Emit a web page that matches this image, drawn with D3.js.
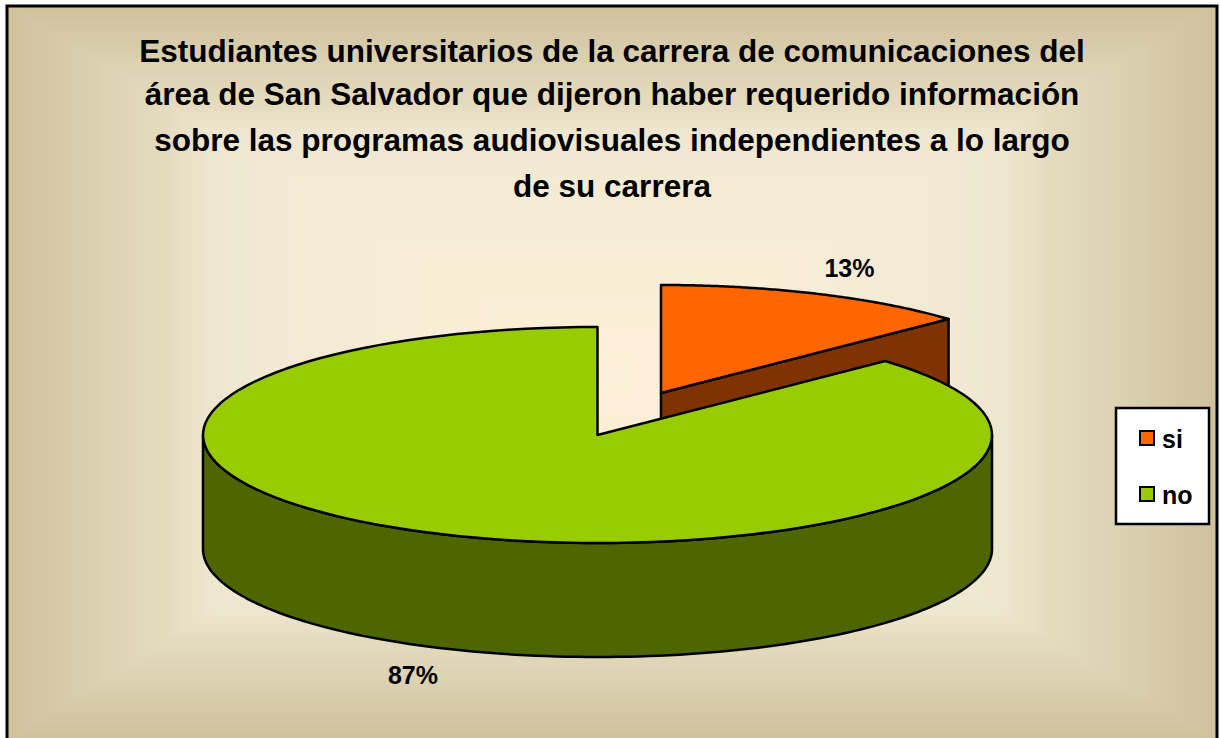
<!DOCTYPE html>
<html><head><meta charset="utf-8">
<script src="https://cdn.jsdelivr.net/npm/d3@7/dist/d3.min.js"></script>
<style>html,body{margin:0;padding:0;background:#fff}svg{display:block}text{font-family:"Liberation Sans",Arial,sans-serif;font-weight:bold;fill:#000}</style>
</head><body><svg id="c" width="1220" height="738"></svg>
<script>
const categories = ["si", "no"];
const values = [13, 87];
const percentLabels = ["13%", "87%"];
const sliceColors = ["#FF6600", "#99CC00"];
const wallColors = ["#803300", "#4D6600"];
const titleLines = [
  "Estudiantes universitarios de la carrera de comunicaciones del",
  "área de San Salvador que dijeron haber requerido información",
  "sobre las programas audiovisuales independientes a lo largo",
  "de su carrera"
];

const svg = d3.select("#c");
// background: rectangular path gradient
const F = {x0:7,y0:6,x1:1217,y1:738}, bc = {x:598,y:372};
const ramp = d3.scaleLinear()
  .domain([0,0.25,0.47,0.656,0.75,0.84,0.93,1])
  .range(["#FDEFD9","#FAEDD6","#F4EBD5","#EEE7D0","#E3D9BC","#DDD2B3","#D4C8A6","#D0C29D"]);
const bg = svg.append("g").attr("shape-rendering","crispEdges");
d3.range(90,0,-1).map(i=>i/90).forEach(t=>{
  bg.append("rect")
    .attr("x",bc.x+(F.x0-bc.x)*t).attr("y",bc.y+(F.y0-bc.y)*t)
    .attr("width",(F.x1-F.x0)*t).attr("height",(F.y1-F.y0)*t)
    .attr("fill",ramp(t));
});
svg.append("path").attr("d",`M${F.x0},738V${F.y0}H${F.x1}V738`).attr("fill","none").attr("stroke","#000").attr("stroke-width",3);

// title
svg.append("g").selectAll("text").data(titleLines).join("text")
  .attr("x",612).attr("y",(d,i)=>[62,105,151,197][i]).attr("text-anchor","middle")
  .attr("font-size",31.5).text(d=>d);

// 3D pie
const rx=394.5, ry=108, depth=114, cx=597.5, cy=435;
const pie = d3.pie().sort(null)(values);
const P = (a,ox=0,oy=0,dz=0)=>[cx+ox+rx*Math.sin(a), cy+oy-ry*Math.cos(a)+dz];
const line = d3.line();
const arcPts = (a0,a1,ox,oy,dz)=>d3.range(0,121).map(i=>P(a0+(a1-a0)*i/120,ox,oy,dz));
const stroke = s=>s.attr("stroke","#000").attr("stroke-width",2.5).attr("stroke-linejoin","round");

// si slice (exploded)
const s = pie[0], ox=63.5, oy=-42;
const apex=[cx+ox,cy+oy], end=P(s.endAngle,ox,oy);
stroke(svg.append("path").attr("fill",wallColors[0])
  .attr("d",line([apex,end,[end[0],end[1]+depth],[apex[0],apex[1]+depth]])+"Z"));
stroke(svg.append("path").attr("fill",sliceColors[0])
  .attr("d",line([apex,...arcPts(s.startAngle,s.endAngle,ox,oy,0)])+"Z"));

// no slice
const n = pie[1];
const wallTop = arcPts(Math.PI/2,3*Math.PI/2,0,0,0);
const wallBot = arcPts(3*Math.PI/2,Math.PI/2,0,0,depth);
stroke(svg.append("path").attr("fill",wallColors[1]).attr("d",line([...wallTop,...wallBot])+"Z"));
stroke(svg.append("path").attr("fill",sliceColors[1])
  .attr("d",line([[cx,cy],...arcPts(n.startAngle,n.endAngle,0,0,0)])+"Z"));

// labels
svg.append("g").selectAll("text").data(percentLabels).join("text")
  .attr("x",(d,i)=>[849.5,413][i]).attr("y",(d,i)=>[277,684][i]).attr("text-anchor","middle")
  .attr("font-size",25).text(d=>d);

// legend
svg.append("rect").attr("x",1116).attr("y",408).attr("width",93).attr("height",116).attr("fill","#fff").attr("stroke","#000").attr("stroke-width",2.5);
const lg = svg.append("g").selectAll("g").data(categories).join("g").attr("transform",(d,i)=>`translate(0,${[438,494][i]})`);
lg.append("rect").attr("x",1140).attr("y",-7).attr("width",14).attr("height",14)
  .attr("fill",(d,i)=>sliceColors[i]).attr("stroke","#000").attr("stroke-width",2);
lg.append("text").attr("x",1162).attr("y",10).attr("font-size",25).text(d=>d);
</script></body></html>
